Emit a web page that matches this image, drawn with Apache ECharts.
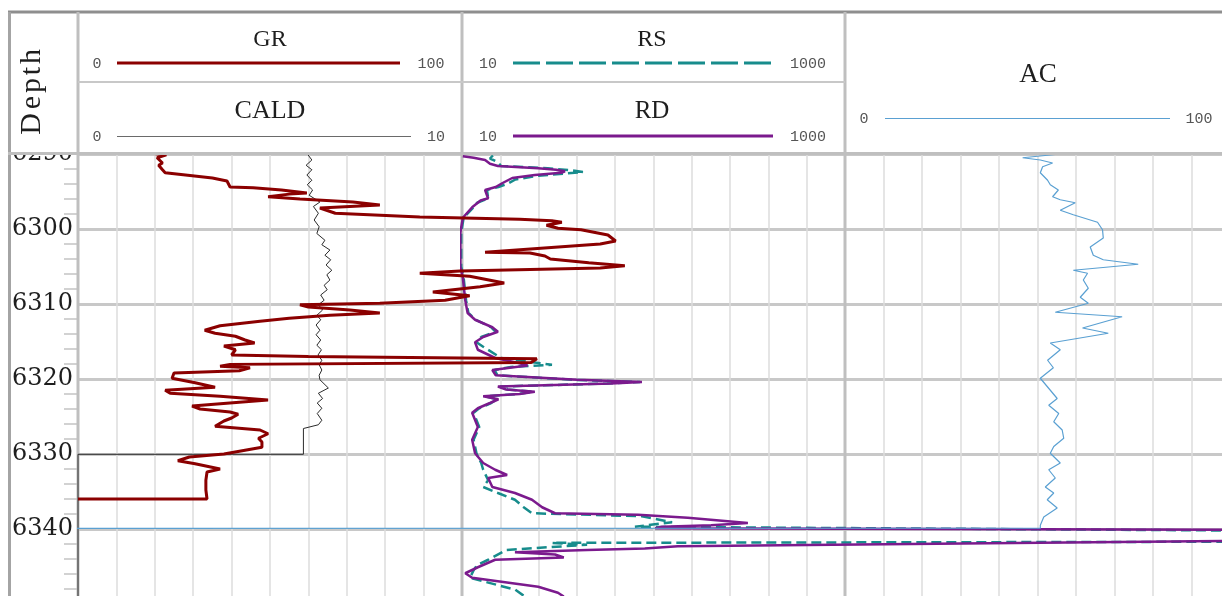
<!DOCTYPE html>
<html>
<head>
<meta charset="utf-8">
<title>Well log</title>
<script src="https://cdn.jsdelivr.net/npm/echarts@6/dist/echarts.min.js"></script>
<style>
  html, body { margin: 0; padding: 0; background: #ffffff; }
  #chart { width: 1222px; height: 596px; }
</style>
</head>
<body>
<div id="chart"></div>
<script>
// ---- log curves (depth in m, value in curve units) ----
const grDepth = [6289.90, 6290.10, 6290.50, 6291.20, 6291.50, 6292.10, 6292.50, 6292.80, 6293.20, 6293.60,
  6294.40, 6294.50, 6294.80, 6295.20, 6295.35, 6295.70, 6296.00, 6296.40, 6296.80, 6297.20,
  6297.90, 6298.40, 6298.70, 6298.90, 6299.10, 6299.50, 6299.90, 6300.10, 6300.80, 6301.60,
  6302.00, 6303.10, 6303.20, 6303.60, 6304.00, 6304.50, 6304.90, 6305.20, 6305.60, 6305.90,
  6306.30, 6307.20, 6307.70, 6308.40, 6308.90, 6309.50, 6309.90, 6310.10, 6310.40, 6310.80,
  6311.20, 6311.50, 6311.90, 6312.30, 6312.90, 6313.50, 6313.90, 6314.30, 6314.80, 6315.20,
  6315.60, 6316.10, 6316.80, 6317.00, 6317.30, 6317.80, 6318.05, 6318.30, 6318.50, 6318.90,
  6319.20, 6319.90, 6320.50, 6321.10, 6321.50, 6321.90, 6322.30, 6322.80, 6323.10, 6323.60,
  6324.00, 6324.40, 6324.70, 6325.20, 6325.60, 6326.30, 6326.80, 6327.30, 6327.90, 6328.40,
  6329.10, 6329.50, 6330.00, 6330.40, 6330.90, 6331.30, 6332.00, 6332.40, 6333.50, 6334.80,
  6336.00, 6336.00];
const grValue = [19.0, 23.0, 20.6, 22.0, 21.0, 22.0, 22.7, 28.0, 35.0, 38.8,
  39.6, 45.6, 53.0, 59.6, 55.0, 49.5, 57.8, 71.6, 78.6, 63.0,
  67.0, 89.0, 115.0, 123.4, 126.0, 122.0, 125.0, 131.0, 138.0, 140.0,
  136.0, 106.0, 117.7, 121.6, 123.0, 133.0, 142.4, 136.0, 99.5, 89.0,
  102.0, 111.0, 104.7, 92.4, 102.0, 95.6, 78.6, 57.8, 60.0, 70.8,
  78.6, 65.6, 55.0, 47.4, 37.0, 33.0, 35.7, 41.0, 43.5, 46.0,
  38.0, 41.0, 40.0, 60.0, 119.5, 118.0, 39.6, 37.0, 44.8, 42.0,
  25.0, 24.5, 30.5, 35.7, 22.7, 24.0, 37.0, 49.5, 42.0, 29.7,
  31.8, 39.6, 41.7, 40.0, 38.0, 35.7, 47.4, 49.5, 47.0, 47.9,
  47.9, 43.5, 38.0, 29.0, 26.0, 30.5, 37.0, 33.6, 33.3, 33.3,
  33.6, 0];

const caldDepth = [6289.90, 6290.80, 6291.50, 6292.10, 6292.80, 6293.50, 6294.10, 6294.80, 6295.50, 6296.40,
  6297.00, 6297.90, 6298.80, 6299.70, 6300.60, 6301.50, 6302.10, 6302.80, 6303.50, 6304.10,
  6304.80, 6305.50, 6306.10, 6306.80, 6307.50, 6308.10, 6308.80, 6309.50, 6310.10, 6310.80,
  6311.50, 6312.10, 6312.80, 6313.50, 6314.10, 6314.80, 6315.50, 6316.10, 6316.80, 6317.50,
  6318.10, 6318.80, 6319.50, 6320.10, 6321.20, 6321.90, 6322.60, 6323.20, 6323.90, 6324.60,
  6325.50, 6326.10, 6326.60, 6330.04, 6330.04, 6349.00];
const caldValue = [5.96, 6.09, 5.94, 6.09, 5.96, 6.09, 5.97, 6.11, 6.02, 6.30,
  6.13, 6.26, 6.15, 6.28, 6.22, 6.43, 6.35, 6.56, 6.43, 6.58,
  6.46, 6.61, 6.48, 6.56, 6.41, 6.49, 6.32, 6.41, 6.26, 6.37,
  6.22, 6.32, 6.20, 6.30, 6.20, 6.32, 6.22, 6.34, 6.25, 6.35,
  6.28, 6.35, 6.28, 6.30, 6.52, 6.26, 6.37, 6.23, 6.35, 6.23,
  6.35, 6.26, 5.87, 5.87, 0, 0];

const rsDepth = [6290.20, 6290.60, 6291.10, 6291.60, 6291.90, 6292.20, 6292.40, 6292.60, 6292.90, 6293.40,
  6293.90, 6294.40, 6294.80, 6295.90, 6296.50, 6297.10, 6298.50, 6300.50, 6305.00, 6306.50,
  6309.50, 6311.20, 6312.10, 6313.10, 6313.70, 6314.40, 6315.10, 6315.70, 6317.20, 6318.10,
  6318.40, 6318.80, 6319.50, 6320.10, 6320.40, 6320.60, 6321.00, 6321.40, 6321.70, 6322.00,
  6322.30, 6322.70, 6323.20, 6323.90, 6324.50, 6326.40, 6328.10, 6329.90, 6331.20, 6332.10,
  6333.50, 6334.40, 6335.20, 6336.10, 6337.10, 6337.90, 6338.30, 6338.60, 6339.10, 6339.70,
  6340.20, 6341.70, 6341.85, 6342.10, 6342.80, 6344.10, 6344.80, 6345.50, 6346.50, 6348.10,
  6348.90];
const rsValue = [14.5, 14.0, 15.4, 16.0, 28.0, 38.0, 42.8, 35.0, 25.0, 19.0,
  17.5, 15.5, 13.5, 13.7, 12.0, 11.5, 10.2, 9.9, 9.9, 10.2,
  10.5, 10.8, 11.8, 14.2, 15.0, 12.6, 11.9, 12.9, 16.0, 29.5,
  18.0, 14.8, 15.3, 38.0, 85.0, 58.0, 15.8, 17.3, 23.5, 19.5,
  13.2, 15.2, 14.2, 12.3, 11.5, 12.3, 11.5, 11.9, 12.6, 12.9,
  13.7, 12.9, 15.4, 18.9, 21.0, 23.2, 87.0, 100, 125, 80.0,
  1e5, 1e5, 29.5, 45.0, 17.0, 13.7, 12.0, 11.5, 11.0, 19.0,
  21.0];

const rdDepth = [6290.30, 6290.50, 6290.80, 6291.30, 6291.60, 6291.90, 6292.10, 6292.30, 6292.50, 6292.80,
  6293.20, 6293.90, 6294.40, 6294.80, 6295.50, 6295.90, 6296.20, 6297.10, 6298.50, 6300.50,
  6305.00, 6306.50, 6309.50, 6311.20, 6312.10, 6313.10, 6313.70, 6314.40, 6315.10, 6316.10,
  6317.20, 6317.90, 6318.20, 6318.80, 6319.50, 6320.10, 6320.40, 6320.60, 6321.00, 6321.40,
  6321.70, 6322.00, 6322.30, 6322.70, 6323.20, 6323.90, 6324.50, 6326.40, 6328.10, 6329.90,
  6331.20, 6332.10, 6332.80, 6333.20, 6334.40, 6335.20, 6336.10, 6337.10, 6337.90, 6338.10,
  6338.50, 6339.20, 6339.50, 6339.70, 6339.90, 6340.10, 6341.60, 6342.30, 6342.60, 6342.80,
  6343.10, 6343.40, 6343.80, 6344.10, 6345.10, 6345.90, 6346.50, 6347.10, 6347.70, 6348.50,
  6349.00];
const rdValue = [10.1, 11.5, 13.2, 14.0, 15.4, 25.0, 31.0, 34.5, 33.0, 24.0,
  18.3, 16.2, 15.0, 13.2, 13.5, 13.7, 12.5, 11.3, 10.1, 9.8,
  9.8, 10.1, 10.4, 10.7, 11.7, 14.4, 15.4, 12.9, 11.7, 12.1,
  14.9, 20.0, 22.0, 14.4, 15.0, 40.0, 87.0, 60.0, 15.4, 17.0,
  24.0, 20.0, 12.9, 15.5, 14.0, 12.1, 11.3, 12.1, 11.3, 11.7,
  12.9, 14.9, 17.2, 13.7, 14.4, 18.9, 23.2, 26.2, 30.6, 83.0,
  151, 311, 200, 111, 102, 1e5, 1e5, 134, 90, 45,
  18.9, 30.6, 34.0, 14.9, 12.1, 10.4, 11.3, 16.8, 25.0, 31.7,
  34.0];

const acDepth = [6289.90, 6290.50, 6290.80, 6291.20, 6291.70, 6292.50, 6293.50, 6294.10, 6294.80, 6295.70,
  6296.10, 6296.50, 6297.50, 6298.10, 6299.10, 6300.10, 6301.20, 6302.40, 6303.50, 6304.10,
  6304.70, 6305.50, 6305.90, 6306.80, 6307.90, 6309.10, 6309.90, 6311.10, 6311.70, 6313.20,
  6313.90, 6315.20, 6316.10, 6317.50, 6318.50, 6319.90, 6322.60, 6323.50, 6324.60, 6325.70,
  6326.80, 6327.90, 6329.00, 6329.90, 6331.20, 6332.10, 6333.20, 6334.40, 6335.20, 6336.10,
  6337.20, 6338.40, 6339.50, 6339.90, 6339.95, 6349.00];
const acValue = [57.7, 46.0, 50.6, 53.8, 51.2, 50.6, 52.5, 53.2, 55.3, 53.8,
  55.8, 59.7, 55.8, 59.2, 65.5, 66.8, 67.0, 63.6, 64.4, 67.0,
  76.1, 59.2, 62.9, 61.8, 63.1, 61.0, 63.1, 54.5, 71.9, 61.6,
  68.3, 53.2, 55.8, 52.5, 54.0, 50.6, 55.0, 52.8, 55.4, 54.1,
  56.3, 56.7, 54.1, 53.2, 55.8, 52.8, 54.5, 51.9, 54.1, 52.4,
  55.0, 51.5, 50.6, 50.6, -999.25, -999.25];

// ---- depth axis ----
const depthMin = 6280;
const depthMax = 6350;
const depthStep = 10;

// ---- colours ----
const C = {
  gr: '#8b0000', cald: '#2b2b2b', rs: '#178c8c', rd: '#7b1a8d', ac: '#5aa0d2',
  border: '#bfbfbf', outer: '#a4a4a4', top: '#8e8e8e', major: '#c8c8c8', minor: '#dcdcdc', text: '#1e1e1e', scale: '#555555'
};

function pairs(values, depths) { return values.map((v, i) => [v, depths[i]]); }

function depthAxis(gridIndex, withGrid) {
  return {
    type: 'value', gridIndex, inverse: true, min: depthMin, max: depthMax, interval: depthStep,
    axisLine: { show: false, onZero: false }, axisTick: { show: false }, axisLabel: { show: false },
    splitLine: { show: withGrid, lineStyle: { color: C.major, width: 3 } }
  };
}
function gridXAxis(gridIndex, min, max, interval) {
  return {
    type: 'value', gridIndex, min, max, interval,
    axisLine: { show: false, onZero: false }, axisTick: { show: false }, axisLabel: { show: false },
    splitLine: { show: true, lineStyle: { color: C.minor, width: 1.5 } }
  };
}
function dataXAxis(gridIndex, type, min, max, position) {
  return { type, gridIndex, min, max, position, show: false, axisLine: { onZero: false } };
}

const T = 79, H = 525;   // plot rows start at 6280 m; the top part sits under the header
function grid(left, width) {
  return { left, top: T, width, height: H, outerBoundsMode: 'none', containLabel: false };
}
// grids 0-3: track backgrounds; grids 4-6: curve scales, wide enough to let curves run past their track
const grids = [
  grid(8, 70),            // depth
  grid(78, 384),          // GR / CALD track
  grid(462, 383),         // RS / RD track
  grid(845, 385),         // AC track
  grid(78, 1152),         // GR 0-300, CALD 0-30
  grid(462, 766),         // RS / RD 10 - 1e5 (log)
  grid(78, 1152)          // AC -200 - 100
];

const xAxes = [
  { type: 'value', gridIndex: 0, show: false, min: 0, max: 1, axisLine: { onZero: false } },
  gridXAxis(1, 0, 10, 1),
  gridXAxis(2, 0, 10, 1),
  gridXAxis(3, 0, 10, 1),
  dataXAxis(4, 'value', 0, 300, 'bottom'),     // GR
  dataXAxis(4, 'value', 0, 30, 'top'),         // CALD
  Object.assign(dataXAxis(5, 'log', 10, 1e5, 'bottom'), { logBase: 10 }), // RS / RD
  dataXAxis(6, 'value', -200, 100, 'bottom')   // AC
];

const yAxes = [
  {
    type: 'value', gridIndex: 0, inverse: true, min: depthMin, max: depthMax, interval: depthStep, position: 'right',
    axisLine: { show: false, onZero: false },
    axisTick: { show: true, inside: true, length: 15, lineStyle: { color: 'rgba(0,0,0,0)', width: 1 } },
    minorTick: { show: true, splitNumber: 5, length: 14, lineStyle: { color: '#c4c4c4', width: 1.5 } },
    axisLabel: { inside: true, margin: 5, fontFamily: 'DejaVu Serif', fontSize: 24, color: C.text,
      showMaxLabel: false, formatter: (v) => String(v) },
    splitLine: { show: false }
  },
  depthAxis(1, true), depthAxis(2, true), depthAxis(3, true),
  depthAxis(4, false), depthAxis(5, false), depthAxis(6, false)
];

function curve(name, xi, yi, data, color, width, z, dash) {
  return {
    type: 'line', name, xAxisIndex: xi, yAxisIndex: yi, data, symbol: 'none', clip: false,
    lineStyle: { color, width, type: dash || 'solid' }, z, animation: false, silent: true
  };
}

const series = [
  curve('RS', 6, 5, pairs(rsValue, rsDepth), C.rs, 2.5, 3, [10, 5]),
  curve('RD', 6, 5, pairs(rdValue, rdDepth), C.rd, 2.5, 4),
  curve('CALD', 5, 4, pairs(caldValue, caldDepth), C.cald, 1, 5),
  curve('GR', 4, 4, pairs(grValue, grDepth), C.gr, 3, 6),
  curve('AC', 7, 6, pairs(acValue, acDepth), C.ac, 1.2, 7)
];

// ---- header and frame ----
function line(x1, y1, x2, y2, color, width, z, dash) {
  return { type: 'line', silent: true, z, shape: { x1, y1, x2, y2 },
    style: { stroke: color, lineWidth: width, lineDash: dash || null } };
}
function label(text, x, y, family, size, color, rot) {
  return { type: 'text', silent: true, z: 102, x, y, rotation: rot || 0,
    style: { text, fontFamily: family, fontSize: size, fill: color,
      align: 'center', verticalAlign: 'middle', textAlign: 'center', textVerticalAlign: 'middle' } };
}
const serif = 'Liberation Serif';
const mono = 'Liberation Mono';

const graphic = [
  // plot frame (under the curves)
  line(78, 153, 78, 596, C.border, 3, 1),
  line(462, 153, 462, 596, C.border, 3, 1),
  line(845, 153, 845, 596, C.border, 3, 1),
  // outer border
  line(9.5, 12, 9.5, 596, C.outer, 3, 51),
  // header panel
  { type: 'rect', silent: true, z: 100, shape: { x: 0, y: 0, width: 1222, height: 153 }, style: { fill: '#ffffff' } },
  line(8, 12, 1222, 12, C.top, 3, 101),
  line(9.5, 12, 9.5, 155, C.outer, 3, 101),
  line(78, 12, 78, 155, C.border, 3, 101),
  line(462, 12, 462, 155, C.border, 3, 101),
  line(845, 12, 845, 155, C.border, 3, 101),
  line(78, 82, 845, 82, '#c8c8c8', 2, 101),
  line(8, 153.5, 1222, 153.5, C.border, 3, 101),

  // GR / CALD
  label('GR', 270, 40, serif, 24, C.text),
  label('0', 97, 64, mono, 15, C.scale),
  line(117, 63, 400, 63, C.gr, 3, 101),
  label('100', 431, 64, mono, 15, C.scale),
  label('CALD', 270, 111, serif, 26, C.text),
  label('0', 97, 137, mono, 15, C.scale),
  line(117, 136.5, 411, 136.5, '#6a6a6a', 1, 101),
  label('10', 436, 137, mono, 15, C.scale),

  // RS / RD
  label('RS', 652, 40, serif, 24, C.text),
  label('10', 488, 64, mono, 15, C.scale),
  line(513, 63, 773, 63, C.rs, 3, 101, [27, 6]),
  label('1000', 808, 64, mono, 15, C.scale),
  label('RD', 652, 111, serif, 25, C.text),
  label('10', 488, 137, mono, 15, C.scale),
  line(513, 136, 773, 136, C.rd, 3, 101),
  label('1000', 808, 137, mono, 15, C.scale),

  // AC
  label('AC', 1038, 75, serif, 27, C.text),
  label('0', 864, 119, mono, 15, C.scale),
  line(885, 118.5, 1170, 118.5, C.ac, 1, 101),
  label('100', 1199, 119, mono, 15, C.scale)
];

// rotated "Depth" title, one glyph at a time for its wide spacing
const depthTitle = ['D', 'e', 'p', 't', 'h'];
const depthTitleY = [124, 102.5, 85.5, 71, 56.5];
depthTitle.forEach((ch, i) => graphic.push(label(ch, 32, depthTitleY[i], serif, 30, C.text, Math.PI / 2)));

const chart = echarts.init(document.getElementById('chart'), null, { renderer: 'canvas' });
chart.setOption({
  animation: false,
  backgroundColor: '#ffffff',
  grid: grids,
  xAxis: xAxes,
  yAxis: yAxes,
  series,
  graphic
});
</script>
</body>
</html>
